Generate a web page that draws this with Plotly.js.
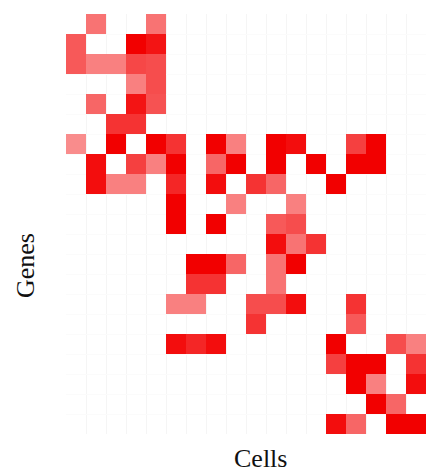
<!DOCTYPE html>
<html>
<head>
<meta charset="utf-8">
<script src="https://cdn.plot.ly/plotly-3.0.1.min.js"></script>
<style>
  html, body { margin: 0; padding: 0; background: #ffffff; }
  #chart { width: 429px; height: 476px; }
</style>
</head>
<body>
<div id="chart"></div>
<script>
// Cell (column) and gene (row) indices of the expression matrix
const cells = [0,1,2,3,4,5,6,7,8,9,10,11,12,13,14,15,16,17];
const genes = [0,1,2,3,4,5,6,7,8,9,10,11,12,13,14,15,16,17,18,19,20];

// Expression level per gene (row, top to bottom) and cell (column); 0 = not expressed
const g00 = [0,.55,0,0,.55,0,0,0,0,0,0,0,0,0,0,0,0,0];
const g01 = [.65,0,0,1,.92,0,0,0,0,0,0,0,0,0,0,0,0,0];
const g02 = [.65,.5,.5,.72,.7,0,0,0,0,0,0,0,0,0,0,0,0,0];
const g03 = [0,0,0,.5,.7,0,0,0,0,0,0,0,0,0,0,0,0,0];
const g04 = [0,.6,0,.92,.68,0,0,0,0,0,0,0,0,0,0,0,0,0];
const g05 = [0,0,.8,.8,0,0,0,0,0,0,0,0,0,0,0,0,0,0];
const g06 = [.45,0,1,0,1,.8,0,1,.5,0,1,.95,0,0,.75,1,0,0];
const g07 = [0,.95,0,.75,.5,1,0,.6,1,0,1,0,1,0,1,1,0,0];
const g08 = [0,.95,.5,.5,0,.85,0,.95,0,.8,.6,0,0,1,0,0,0,0];
const g09 = [0,0,0,0,0,1,0,0,.5,0,0,.5,0,0,0,0,0,0];
const g10 = [0,0,0,0,0,1,0,1,0,0,.65,.7,0,0,0,0,0,0];
const g11 = [0,0,0,0,0,0,0,0,0,0,.95,.55,.8,0,0,0,0,0];
const g12 = [0,0,0,0,0,0,1,1,.6,0,.55,1,0,0,0,0,0,0];
const g13 = [0,0,0,0,0,0,.8,.8,0,0,.55,0,0,0,0,0,0,0];
const g14 = [0,0,0,0,0,.5,.5,0,0,.7,.7,.95,0,0,.8,0,0,0];
const g15 = [0,0,0,0,0,0,0,0,0,.8,0,0,0,0,.65,0,0,0];
const g16 = [0,0,0,0,0,.95,.85,.95,0,0,0,0,0,1,0,0,.7,.5];
const g17 = [0,0,0,0,0,0,0,0,0,0,0,0,0,.75,1,1,0,.8];
const g18 = [0,0,0,0,0,0,0,0,0,0,0,0,0,0,1,.5,0,.95];
const g19 = [0,0,0,0,0,0,0,0,0,0,0,0,0,0,0,1,.6,0];
const g20 = [0,0,0,0,0,0,0,0,0,0,0,0,0,.95,.6,0,1,1];

const expression = [g00,g01,g02,g03,g04,g05,g06,g07,g08,g09,g10,
                    g11,g12,g13,g14,g15,g16,g17,g18,g19,g20];

// Unexpressed entries are left blank
const z = expression.map(row => row.map(v => (v === 0 ? null : v)));

const trace = {
  type: 'heatmap',
  x: cells,
  y: genes,
  z: z,
  zmin: 0,
  zmax: 1,
  colorscale: [[0, 'rgb(255,255,255)'], [1, 'rgb(242,0,0)']],
  showscale: false,
  hoverongaps: false
};

// Cell boundaries, used only for the faint column/row grid
const colEdges = cells.map(c => c - 0.5).concat([cells.length - 0.5]);
const rowEdges = genes.map(g => g - 0.5).concat([genes.length - 0.5]);

const layout = {
  width: 429,
  height: 476,
  margin: { l: 66, r: 3, t: 14, b: 42 },
  paper_bgcolor: '#ffffff',
  plot_bgcolor: '#ffffff',
  showlegend: false,
  xaxis: {
    range: [-0.5, cells.length - 0.5],
    tickvals: colEdges,
    showticklabels: false,
    ticks: '',
    showgrid: true,
    gridcolor: '#f5f5f5',
    gridwidth: 1,
    zeroline: false,
    showline: false,
    fixedrange: true
  },
  yaxis: {
    range: [genes.length - 0.5, -0.5],
    tickvals: rowEdges,
    showticklabels: false,
    ticks: '',
    showgrid: true,
    gridcolor: '#fbfbfb',
    gridwidth: 1,
    zeroline: false,
    showline: false,
    fixedrange: true
  },
  annotations: [
    {
      text: 'Cells',
      xref: 'paper', yref: 'paper',
      x: 0.539, y: 0,
      xanchor: 'center', yanchor: 'top',
      yshift: -8,
      showarrow: false,
      font: { family: 'Liberation Serif, DejaVu Serif, serif', size: 26, color: '#111111' }
    },
    {
      text: 'Genes',
      xref: 'paper', yref: 'paper',
      x: -0.114, y: 0.402,
      xanchor: 'center', yanchor: 'middle',
      textangle: -90,
      showarrow: false,
      font: { family: 'Liberation Serif, DejaVu Serif, serif', size: 26, color: '#111111' }
    }
  ]
};

Plotly.newPlot('chart', [trace], layout, { displayModeBar: false, staticPlot: true });
</script>
</body>
</html>
